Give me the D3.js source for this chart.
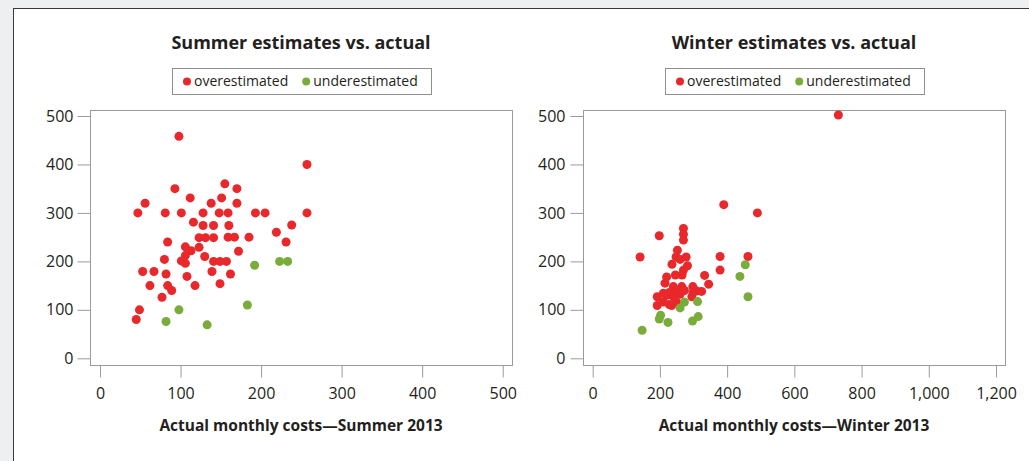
<!DOCTYPE html>
<html><head><meta charset="utf-8">
<script src="https://cdn.jsdelivr.net/npm/d3@7"></script>
<style>
html,body{margin:0;padding:0;background:#eeeff1;}
svg{display:block;}
text{font-family:"Open Sans","Noto Sans",sans-serif;fill:#231f20;}
</style></head>
<body>
<svg id="c" width="1029" height="461"></svg>
<script>
// ---- Data ----
const summerOver = [[98,458],[257,400],[257,300],[47,300],[56,320],[93,350],[81,300],[101,300],[112,331],[116,281],[128,300],[138,320],[151,331],[155,360],[148,300],[159,300],[170,350],[170,320],[193,300],[205,300],[128,274],[141,274],[160,274],[238,275],[123,249],[131,249],[141,249],[159,250],[167,250],[185,250],[219,260],[231,240],[84,240],[106,230],[113,222],[123,229],[106,212],[101,201],[106,196],[130,210],[172,221],[80,204],[141,200],[149,200],[157,200],[53,179],[67,179],[82,174],[108,169],[139,179],[162,174],[62,150],[84,150],[89,140],[118,150],[149,154],[77,126],[49,100],[45,80]];
const summerUnder = [[82,76],[98,100],[133,69],[183,110],[192,192],[223,200],[233,200]];
const winterOver = [[731,502],[390,317],[490,300],[270,268],[270,256],[270,244],[198,253],[141,209],[252,223],[248,209],[260,204],[278,209],[236,194],[282,191],[270,182],[266,172],[246,172],[220,168],[215,155],[333,171],[345,153],[379,210],[379,182],[462,210],[192,127],[192,109],[210,134],[228,136],[240,148],[265,148],[240,127],[228,111],[210,116],[250,116],[260,132],[298,148],[299,136],[309,139],[324,138],[295,127],[235,109],[273,140],[220,130],[250,140]];
const winterUnder = [[147,58],[202,89],[198,81],[224,74],[260,104],[273,116],[312,117],[297,77],[314,86],[438,169],[454,193],[462,127]];
const yTicks = [0,100,200,300,400,500];
const summerXTicks = [0,100,200,300,400,500];
const winterXTicks = [0,200,400,600,800,1000,1200];
const titles = ["Summer estimates vs. actual","Winter estimates vs. actual"];
const xTitles = ["Actual monthly costs\u2014Summer 2013","Actual monthly costs\u2014Winter 2013"];
const legendLabels = ["overestimated","underestimated"];
const colors = ["#e8282b","#7aac3b"];

const svg = d3.select("#c");
// outer frame
svg.append("rect").attr("x",13.5).attr("y",8.5).attr("width",1100).attr("height",500)
  .attr("fill","#fff").attr("stroke","#3a3a3a").attr("stroke-width",1);

const panels = [
  {box:[90,512], xr:[100,502.7], xmax:500, xticks:summerXTicks, over:summerOver, under:summerUnder,
   legend:[172,431], fmt:d3.format("d"), tpad:4},
  {box:[583,1005], xr:[592.7,996], xmax:1200, xticks:winterXTicks, over:winterOver, under:winterUnder,
   legend:[665,924], fmt:d3.format(","), tpad:5}
];
const boxTop = 110, boxBottom = 365;
const y = d3.scaleLinear().domain([0,500]).range([358.3,116]);

panels.forEach((p,i)=>{
  const x = d3.scaleLinear().domain([0,p.xmax]).range(p.xr);
  const g = svg.append("g");
  const cx = (p.box[0]+p.box[1])/2;
  // title
  g.append("text").attr("x",cx).attr("y",49).attr("text-anchor","middle")
    .attr("font-size",18).attr("font-weight",700).text(titles[i]);
  // legend
  g.append("rect").attr("x",p.legend[0]+0.5).attr("y",68.5).attr("width",p.legend[1]-p.legend[0]).attr("height",26)
    .attr("fill","#fff").attr("stroke","#8f8f8f");
  const lg = g.append("g");
  let lx = p.legend[0]+15;
  legendLabels.forEach((lab,j)=>{
    lg.append("circle").attr("cx",lx).attr("cy",81.5).attr("r",4).attr("fill",colors[j]);
    const t = lg.append("text").attr("x",lx+7).attr("y",86).attr("font-size",14).text(lab);
    lx += 7 + t.node().getComputedTextLength() + 18;
  });
  // plot box
  g.append("rect").attr("x",p.box[0]+0.5).attr("y",boxTop+0.5).attr("width",p.box[1]-p.box[0]).attr("height",boxBottom-boxTop)
    .attr("fill","#fff").attr("stroke","#9a9a9a");
  // y axis
  const ya = g.append("g").attr("transform",`translate(${p.box[0]+0.5},0)`)
    .call(d3.axisLeft(y).tickValues(yTicks).tickSize(13).tickPadding(p.tpad).tickFormat(d3.format("d")));
  // x axis
  const xa = g.append("g").attr("transform",`translate(0,${boxBottom+0.5})`)
    .call(d3.axisBottom(x).tickValues(p.xticks).tickSize(12).tickPadding(10).tickFormat(p.fmt));
  [ya,xa].forEach(a=>{
    a.select(".domain").remove();
    a.selectAll(".tick line").attr("stroke","#9a9a9a");
    a.selectAll(".tick text").attr("font-size",16).attr("fill","#231f20").attr("font-family",null);
  });
  // x title
  g.append("text").attr("x",cx).attr("y",431).attr("text-anchor","middle")
    .attr("font-size",15.5).attr("font-weight",700).text(xTitles[i]);
  // points
  const pts = g.append("g");
  pts.selectAll("circle.o").data(p.over).join("circle").attr("class","o")
    .attr("cx",d=>x(d[0])).attr("cy",d=>y(d[1])).attr("r",4.5).attr("fill",colors[0]);
  pts.selectAll("circle.u").data(p.under).join("circle").attr("class","u")
    .attr("cx",d=>x(d[0])).attr("cy",d=>y(d[1])).attr("r",4.5).attr("fill",colors[1]);
});
</script>
</body></html>
